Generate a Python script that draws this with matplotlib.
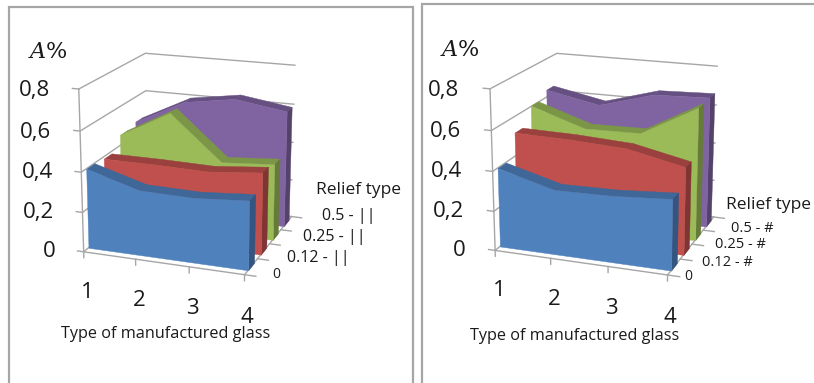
import matplotlib
matplotlib.use('Agg')
import matplotlib.pyplot as plt
from matplotlib.patches import Rectangle
from mpl_toolkits.mplot3d import proj3d
from mpl_toolkits.mplot3d.art3d import Poly3DCollection

plt.rcParams['font.family'] = ['Open Sans', 'DejaVu Sans']
plt.rcParams['mathtext.fontset'] = 'dejavuserif'

glass_types = [1, 2, 3, 4]
a_ticks = [0, 0.2, 0.4, 0.6, 0.8]
a_labels = ['0', '0,2', '0,4', '0,6', '0,8']

blue_left = [0.40, 0.325, 0.32, 0.34]
red_left = [0.39, 0.39, 0.385, 0.41]
green_left = [0.455, 0.595, 0.37, 0.39]
purple_left = [0.47, 0.60, 0.64, 0.60]
labels_left = ['0', '0.12 - ||', '0.25 - ||', '0.5 - ||']

blue_right = [0.40, 0.325, 0.33, 0.35]
red_right = [0.52, 0.515, 0.50, 0.44]
green_right = [0.605, 0.515, 0.52, 0.675]
purple_right = [0.64, 0.585, 0.665, 0.675]
labels_right = ['0', '0.12 - #', '0.25 - #', '0.5 - #']

face_colors = ['#4F81BD', '#C0504D', '#9BBB59', '#8064A2']
top_colors = ['#3F6797', '#9A403E', '#7C9647', '#665082']
side_colors = ['#345580', '#7F3533', '#667B3A', '#54426B']
wall_color = '#a6a6a6'
text_color = '#1a1a1a'


def draw_area(ax, values, depth, color, top, side):
    y0 = depth + 0.27
    y1 = depth + 0.73
    # top strip, right end, then the front face
    for i in range(len(values) - 1):
        quad = [(glass_types[i], y0, values[i]), (glass_types[i + 1], y0, values[i + 1]),
                (glass_types[i + 1], y1, values[i + 1]), (glass_types[i], y1, values[i])]
        ax.add_collection3d(Poly3DCollection([quad], facecolor=top, edgecolor=top, linewidth=0.3,
                                             zorder=10 + (3 - depth) * 10))
    end = [(4, y0, 0), (4, y1, 0), (4, y1, values[-1]), (4, y0, values[-1])]
    ax.add_collection3d(Poly3DCollection([end], facecolor=side, edgecolor=side, linewidth=0.3,
                                         zorder=11 + (3 - depth) * 10))
    front = [(1, y0, 0)]
    front += [(x, y0, v) for x, v in zip(glass_types, values)]
    front += [(4, y0, 0)]
    ax.add_collection3d(Poly3DCollection([front], facecolor=color, edgecolor=color, linewidth=0.3,
                                         zorder=12 + (3 - depth) * 10))


def label_3d(ax, x, y, z, text, **kw):
    # plain 2D text placed at the projected point
    px, py, _ = proj3d.proj_transform(x, y, z, ax.get_proj())
    ax.text2D(px, py, text, transform=ax.transData, color=text_color, **kw)


def draw_panel(rect, series, x_size, zoom):
    ax = fig.add_axes(rect, projection='3d', computed_zorder=False)
    ax.patch.set_alpha(0)
    ax.set_proj_type('persp', focal_length=0.55)
    ax.view_init(elev=17.5, azim=-70)
    ax.set_box_aspect((x_size, 180, 179), zoom=zoom)
    ax.set_xlim(1, 4)
    ax.set_ylim(0, 4)
    ax.set_zlim(0, 0.8)

    for axis in (ax.xaxis, ax.yaxis, ax.zaxis):
        axis.set_pane_color((1, 1, 1, 0))
        axis.line.set_color((0, 0, 0, 0))
        axis._axinfo['tick']['linewidth'] = {True: 0, False: 0}
    ax.set_xticks(glass_types)
    ax.set_yticks([0, 1, 2, 3, 4])
    ax.set_zticks(a_ticks)
    ax.set_xticklabels([])
    ax.set_yticklabels([])
    ax.set_zticklabels([])
    ax.xaxis._axinfo['grid']['linewidth'] = 0
    ax.yaxis._axinfo['grid']['linewidth'] = 0
    ax.zaxis._axinfo['grid'].update(color=wall_color, linewidth=1.0)

    for depth, values in enumerate(series):
        draw_area(ax, values, depth, face_colors[depth], top_colors[depth], side_colors[depth])

    # axis lines, ticks and labels
    ax.plot([1, 1], [0, 0], [0, 0.8], color=wall_color, lw=1, zorder=5)
    ax.plot([1, 4], [0, 0], [0, 0], color=wall_color, lw=1, zorder=60)
    ax.plot([4, 4], [0, 4], [0, 0], color=wall_color, lw=1, zorder=5)
    for v, lab in zip(a_ticks, a_labels):
        ax.plot([0.88, 1], [0, 0], [v, v], color=wall_color, lw=1, zorder=5)
        label_3d(ax, 0.45, 0, v - 0.02, lab, fontsize=16, ha='right', va='center')
    for x in glass_types:
        ax.plot([x, x], [0, 0], [-0.03, 0], color=wall_color, lw=1, zorder=60)
        label_3d(ax, x + 0.05, 0, -0.21, str(x), fontsize=16, ha='center', va='center')
    for d in [0, 1, 2, 3, 4]:
        ax.plot([4, 4.2], [d, d], [0, 0], color=wall_color, lw=1, zorder=60)
    return ax


def pixel_text(x, y, text, **kw):
    fig.text(x / 814, 1 - y / 383, text, va='center', color=text_color, **kw)


fig = plt.figure(figsize=(8.14, 3.83), dpi=100)

fig.add_artist(Rectangle((9 / 814, -0.01), 404 / 814, 1 - 7 / 383 + 0.01, fill=False,
                         edgecolor='#a6a6a6', linewidth=1.6, transform=fig.transFigure))
fig.add_artist(Rectangle((422 / 814, -0.01), 0.6, 1 - 4 / 383 + 0.01, fill=False,
                         edgecolor='#a6a6a6', linewidth=1.6, transform=fig.transFigure))

draw_panel([-0.011, 0.017, 0.48, 1.12], [blue_left, red_left, green_left, purple_left], 180, 0.71)
draw_panel([0.501, 0.017, 0.48, 1.12], [blue_right, red_right, green_right, purple_right], 194, 0.725)

pixel_text(28, 52, '$\\mathit{A}$%', fontsize=16, family='DejaVu Serif')
pixel_text(440, 50, '$\\mathit{A}$%', fontsize=16, family='DejaVu Serif')
pixel_text(166, 334, 'Type of manufactured glass', fontsize=11.7, ha='center')
pixel_text(575, 336, 'Type of manufactured glass', fontsize=11.7, ha='center')
pixel_text(359, 190, 'Relief type', fontsize=12.5, ha='center')
pixel_text(769, 205, 'Relief type', fontsize=12.5, ha='center')

# depth labels fan out wider than the axis ticks in the original
left_spots = [(272, 275), (287, 258), (303, 237), (322, 216)]
right_spots = [(684, 277), (702, 263), (715, 245), (731, 228)]
for (x, y), lab in zip(left_spots, labels_left):
    pixel_text(x, y, lab, fontsize=11.5 if lab != '0' else 10)
for (x, y), lab in zip(right_spots, labels_right):
    pixel_text(x, y, lab, fontsize=10.5 if lab != '0' else 10)

fig.savefig('out.png', dpi=100)
